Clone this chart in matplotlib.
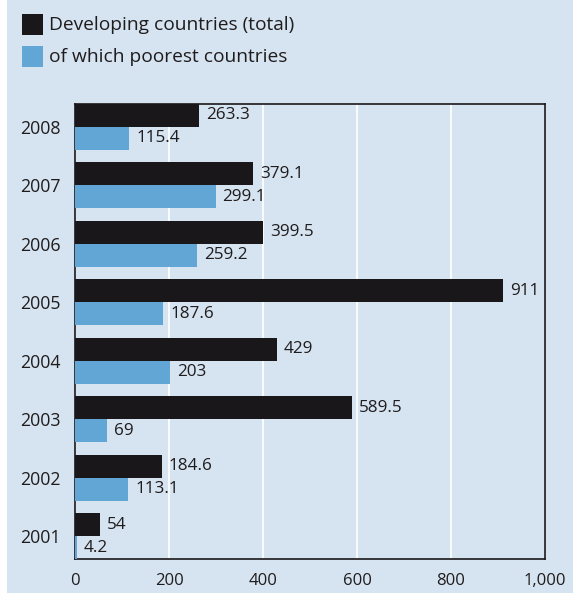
import numpy as np
import matplotlib.pyplot as plt
from matplotlib.patches import Rectangle

plt.rcParams['font.family'] = ['Open Sans', 'DejaVu Sans']

years = ['2001', '2002', '2003', '2004', '2005', '2006', '2007', '2008']
total = [54, 184.6, 589.5, 429, 911, 399.5, 379.1, 263.3]
poorest = [4.2, 113.1, 69, 203, 187.6, 259.2, 299.1, 115.4]
total_labels = ['54', '184.6', '589.5', '429', '911', '399.5', '379.1', '263.3']
poorest_labels = ['4.2', '113.1', '69', '203', '187.6', '259.2', '299.1', '115.4']

bg = '#d6e3f0'
dark = '#1a171b'
blue = '#62a6d6'
txt = '#1f1c1d'

fig = plt.figure(figsize=(5.73, 5.99), dpi=100)
fig.patch.set_facecolor('white')
fig.add_artist(Rectangle((7/573, 6/599), 1 - 7/573, 1 - 6/599,
                         transform=fig.transFigure, facecolor=bg,
                         edgecolor='none', zorder=0))

ax = fig.add_axes([75/573, 1 - 559/599, 470/573, 455/599])
ax.set_facecolor(bg)

y = np.arange(len(years))
h = 0.39
b1 = ax.barh(y + h/2, total, height=h, color=dark, zorder=3)
b2 = ax.barh(y - h/2, poorest, height=h, color=blue, zorder=3)
ax.bar_label(b1, labels=total_labels, padding=5, fontsize=12.3, color=txt)
ax.bar_label(b2, labels=poorest_labels, padding=5, fontsize=12.3, color=txt)

ax.set_xlim(0, 1000)
ax.set_ylim(-h, len(years) - 1 + h)
ax.set_xticks([0, 200, 400, 600, 800, 1000])
ax.set_xticklabels(['0', '200', '400', '600', '800', '1,000'])
ax.set_yticks(y)
ax.set_yticklabels(years)
ax.tick_params(length=0, colors=txt)
ax.tick_params(axis='x', pad=10, labelsize=12)
ax.tick_params(axis='y', pad=10, labelsize=12.8)
ax.grid(axis='x', color='white', linewidth=1.2, zorder=1)
for s in ax.spines.values():
    s.set_color(dark)
    s.set_linewidth(1.2)

# legend
fig.add_artist(Rectangle((22/573, 1 - 35/599), 21/573, 21/599,
                         transform=fig.transFigure, facecolor=dark, edgecolor='none'))
fig.add_artist(Rectangle((22/573, 1 - 67/599), 21/573, 21/599,
                         transform=fig.transFigure, facecolor=blue, edgecolor='none'))
fig.text(49/573, 1 - 25/599, 'Developing countries (total)', fontsize=13.8,
         color=txt, va='center')
fig.text(49/573, 1 - 57/599, 'of which poorest countries', fontsize=13.8,
         color=txt, va='center')

fig.savefig('out.png', dpi=100, facecolor=fig.get_facecolor())
